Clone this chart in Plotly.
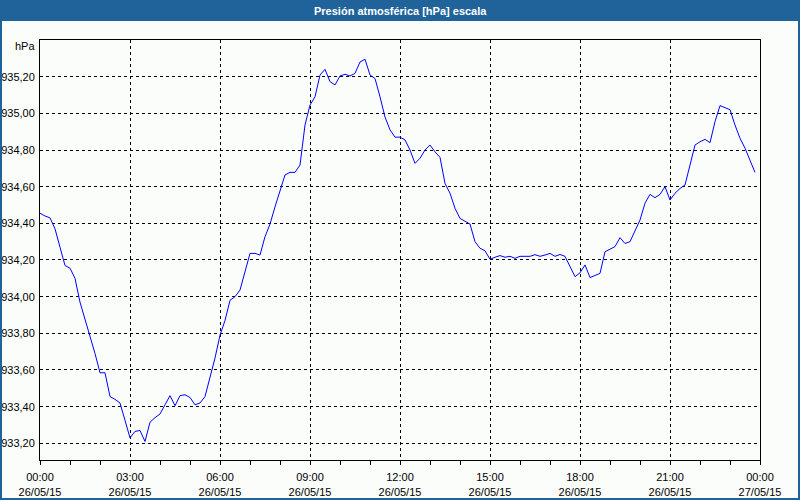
import pandas as pd
import plotly.graph_objects as go

title_text = "Presión atmosférica [hPa] escala"
unit_label = "hPa"
start_time = "2015-05-26 00:00"
end_time = "2015-05-27 00:00"
sample_minutes = 10
y_tick_values = [933.2, 933.4, 933.6, 933.8, 934.0, 934.2, 934.4, 934.6, 934.8, 935.0, 935.2]

pressure = [
    934.455, 934.44, 934.43, 934.37, 934.27, 934.17, 934.155, 934.10, 933.97, 933.88,
    933.78, 933.69, 933.585, 933.585, 933.455, 933.44, 933.42, 933.32, 933.23, 933.265,
    933.27, 933.21, 933.315, 933.34, 933.36, 933.41, 933.46, 933.405, 933.46, 933.465,
    933.45, 933.41, 933.42, 933.455, 933.555, 933.665, 933.79, 933.87, 933.98, 934.00,
    934.036, 934.135, 934.236, 934.236, 934.227, 934.327, 934.396, 934.49, 934.573, 934.664,
    934.678, 934.678, 934.718, 934.936, 935.045, 935.09, 935.209, 935.24, 935.173, 935.155,
    935.204, 935.213, 935.204, 935.218, 935.28, 935.295, 935.209, 935.19, 935.09, 934.98,
    934.91, 934.87, 934.87, 934.855, 934.80, 934.727, 934.755, 934.80, 934.827, 934.79,
    934.76, 934.618, 934.564, 934.482, 934.427, 934.413, 934.396, 934.30, 934.264, 934.25,
    934.204, 934.215, 934.224, 934.215, 934.22, 934.209, 934.22, 934.22, 934.22, 934.229,
    934.22, 934.227, 934.236, 934.22, 934.23, 934.22, 934.164, 934.109, 934.13, 934.173,
    934.104, 934.115, 934.127, 934.245, 934.26, 934.273, 934.322, 934.29, 934.30, 934.355,
    934.418, 934.51, 934.558, 934.54, 934.558, 934.60, 934.527, 934.564, 934.59, 934.609,
    934.727, 934.827, 934.845, 934.858, 934.84, 934.955, 935.042, 935.03, 935.02, 934.936,
    934.864, 934.81, 934.745, 934.678,
]

times = pd.date_range(start_time, periods=len(pressure), freq=f"{sample_minutes}min")

BLUE_BAR = "#20639a"
BG = "#fbfdfb"

fig = go.Figure()
fig.add_trace(go.Scatter(x=times, y=pressure, mode="lines",
                         line=dict(color="#0000ff", width=1), hoverinfo="skip"))

W, H = 800, 500
ml, mr, mt, mb = 40, 40, 40, 40
pw, ph = W - ml - mr, H - mt - mb


def px_x(p):
    return (p - ml) / pw


def px_y(p):
    return 1 - (p - mt) / ph


fig.update_layout(
    width=W, height=H,
    margin=dict(l=ml, r=mr, t=mt, b=mb, pad=0, autoexpand=False),
    paper_bgcolor=BG, plot_bgcolor=BG,
    separators=",.",
    showlegend=False,
    font=dict(family="Liberation Sans, Arial, sans-serif", size=11, color="#000000"),
    xaxis=dict(
        type="date", automargin=False,
        range=[start_time, end_time],
        tick0=start_time, dtick=3 * 3600000,
        tickformat="%H:%M<br>%d/%m/%y",
        ticks="outside", ticklen=4, tickcolor="#000000", tickwidth=1,
        minor=dict(dtick=3600000, ticks="outside", ticklen=4, tickcolor="#000000", showgrid=False),
        showgrid=True, gridcolor="#000000", gridwidth=1, griddash="3px,3px",
        showline=True, linecolor="#000000", linewidth=1, mirror=True,
        zeroline=False,
        ticklabelstandoff=3,
        tickfont=dict(size=11, color="#000000"),
    ),
    yaxis=dict(
        automargin=False,
        range=[933.109, 935.4],
        tickmode="array", tickvals=y_tick_values,
        tickformat=".2f",
        ticks="", showgrid=True, gridcolor="#000000", gridwidth=1, griddash="3px,3px",
        showline=True, linecolor="#000000", linewidth=1, mirror=True,
        zeroline=False,
        tickfont=dict(size=11, color="#000000"),
        ticklabelstandoff=2,
    ),
    shapes=[
        dict(type="rect", xref="paper", yref="paper",
             x0=px_x(0), x1=px_x(800), y0=px_y(0), y1=px_y(21),
             fillcolor=BLUE_BAR, line=dict(width=0), layer="below"),
        dict(type="rect", xref="paper", yref="paper",
             x0=px_x(1), x1=px_x(799), y0=px_y(1), y1=px_y(499),
             fillcolor="rgba(0,0,0,0)", line=dict(color=BLUE_BAR, width=2), layer="above"),
    ],
    annotations=[
        dict(text="<b>" + title_text + "</b>", xref="paper", yref="paper",
             x=px_x(400), y=px_y(10.5), xanchor="center", yanchor="middle",
             showarrow=False,
             font=dict(family="Liberation Sans Narrow, Arial Narrow, sans-serif", size=11, color="#ffffff")),
        dict(text=unit_label, xref="paper", yref="paper",
             x=px_x(37), y=px_y(46.5), xanchor="right", yanchor="middle",
             showarrow=False, font=dict(size=11, color="#000000")),
    ],
)

fig.write_html("out.html")
